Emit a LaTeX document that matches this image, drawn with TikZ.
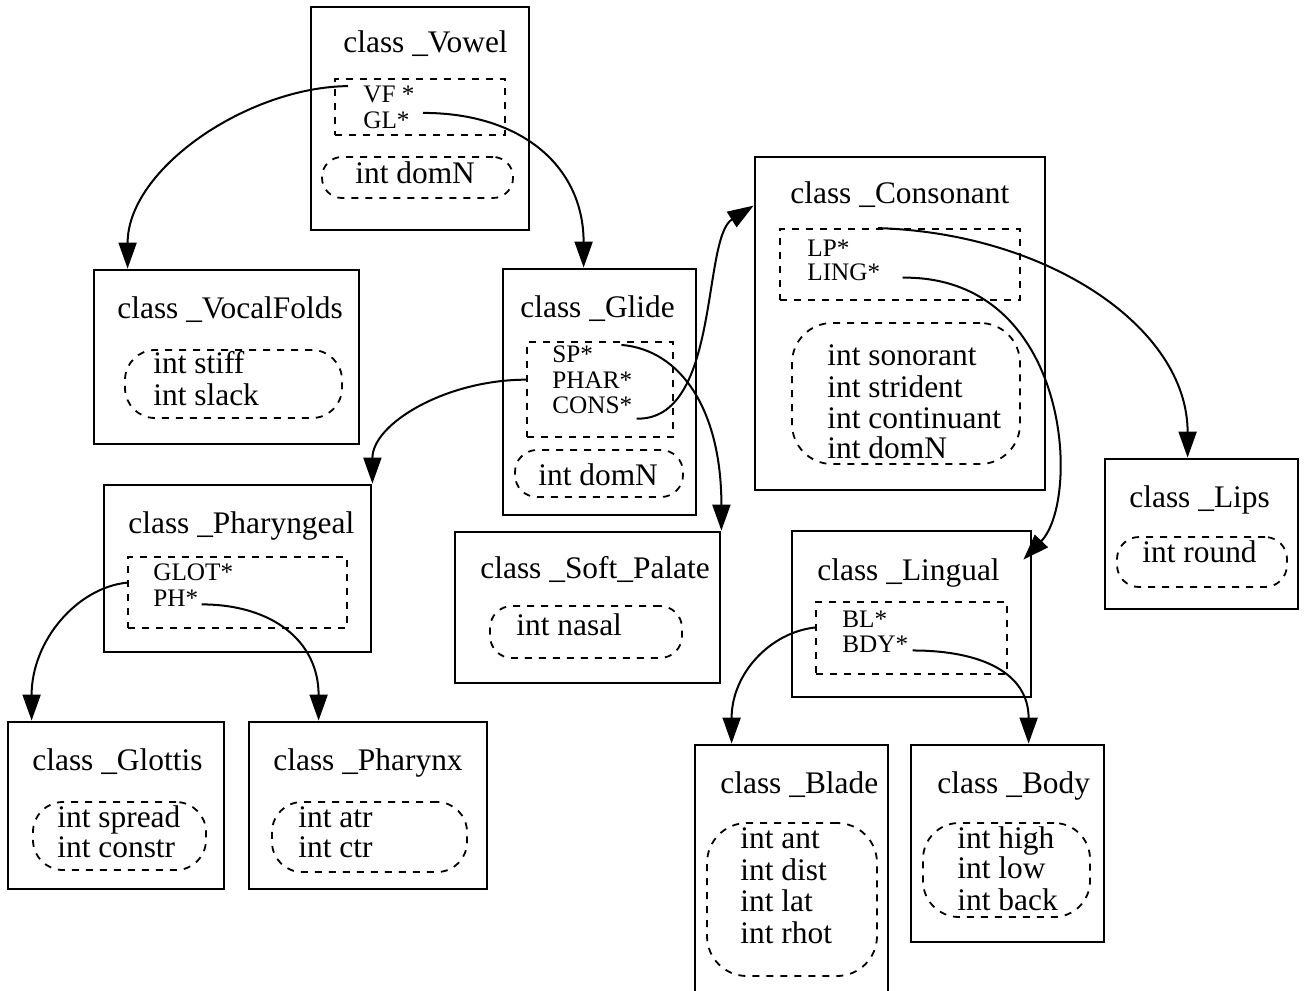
\documentclass[tikz,border=0pt]{standalone}
\usepackage{fontspec}
\setmainfont{Liberation Serif}
\usetikzlibrary{arrows.meta,calc,fit}
\newcommand\cfontL{\fontsize{15.7pt}{18pt}\selectfont}
\newcommand\cfontS{\fontsize{12.6pt}{15pt}\selectfont}

\begin{document}
\begin{tikzpicture}[x=0.5pt,y=-0.5pt,
  cls/.style={draw, line width=1.4pt, inner sep=0pt},
  fbox/.style={draw, line width=0.9pt, dash pattern=on 3.5pt off 3.5pt, inner sep=0pt},
  ibox/.style={draw, line width=0.9pt, dash pattern=on 3.5pt off 3.5pt, inner sep=0pt, rounded corners=#1},
  ttl/.style={anchor=base west, inner sep=0pt, font=\cfontL},
  fld/.style={anchor=base west, inner sep=0pt, font=\cfontS},
  mem/.style={anchor=base west, inner sep=0pt, font=\cfontL},
  arr/.style={-{Triangle[length=13pt,width=9pt]}, line width=1pt},
]
\useasboundingbox (0,0) rectangle (1304,990);

% class _Vowel
\node[cls, fit={(311,7)(529,230)}] (vowel) {};
\node[ttl] (vowelT) at (343,53) {class \_Vowel};
\node[fbox, fit={(335,79)(505,135)}] (vowelF) {};
\node[fld] (vf) at (363,103) {VF *};
\node[fld] (gl) at (363,128) {GL*};
\node[ibox=10pt, fit={(322,157)(513,198)}] (vowelI) {};
\node[mem] (vowelD) at (355,183) {int domN};

% class _VocalFolds
\node[cls, fit={(94,270)(359,444)}] (vocalfolds) {};
\node[ttl] (vocalT) at (117,318) {class \_VocalFolds};
\node[ibox=15pt, fit={(125,350)(342,418)}] (vocalI) {};
\node[mem] (stiff) at (153,373) {int stiff};
\node[mem] (slack) at (153,405) {int slack};

% class _Glide
\node[cls, fit={(503,269)(696,515)}] (glide) {};
\node[ttl] (glideT) at (520,317) {class \_Glide};
\node[fbox, fit={(527,342)(673,437)}] (glideF) {};
\node[fld] (sp) at (552,362) {SP*};
\node[fld] (phar) at (552,388) {PHAR*};
\node[fld] (cons) at (552,413) {CONS*};
\node[ibox=11pt, fit={(515,450)(683,497)}] (glideI) {};
\node[mem] (glideD) at (538,485) {int domN};

% class _Consonant
\node[cls, fit={(755,157)(1045,490)}] (consonant) {};
\node[ttl] (consT) at (790,203) {class \_Consonant};
\node[fbox, fit={(780,229)(1020,300)}] (consF) {};
\node[fld] (lp) at (807,256) {LP*};
\node[fld] (ling) at (807,280) {LING*};
\node[ibox=20pt, fit={(792,323)(1020,464)}] (consI) {};
\node[mem] (sonorant) at (827,365) {int sonorant};
\node[mem] (strident) at (827,397) {int strident};
\node[mem] (continuant) at (827,428) {int continuant};
\node[mem] (consD) at (827,458) {int domN};

% class _Lips
\node[cls, fit={(1105,459)(1298,609)}] (lips) {};
\node[ttl] (lipsT) at (1129,507) {class \_Lips};
\node[ibox=11pt, fit={(1117,537)(1287,587)}] (lipsI) {};
\node[mem] (round) at (1142,562) {int round};

% class _Pharyngeal
\node[cls, fit={(104,485)(371,652)}] (pharyngeal) {};
\node[ttl] (pharT) at (128,533) {class \_Pharyngeal};
\node[fbox, fit={(128,557)(347,628)}] (pharF) {};
\node[fld] (glot) at (153,580) {GLOT*};
\node[fld] (ph) at (153,606) {PH*};

% class _Soft_Palate
\node[cls, fit={(455,532)(720,683)}] (softpalate) {};
\node[ttl] (softT) at (480,578) {class \_Soft\_Palate};
\node[ibox=11pt, fit={(490,606)(682,658)}] (softI) {};
\node[mem] (nasal) at (516,635) {int nasal};

% class _Lingual
\node[cls, fit={(792,531)(1031,697)}] (lingual) {};
\node[ttl] (lingT) at (817,580) {class \_Lingual};
\node[fbox, fit={(816,602)(1007,674)}] (lingF) {};
\node[fld] (bl) at (842,627) {BL*};
\node[fld] (bdy) at (842,652) {BDY*};

% class _Glottis
\node[cls, fit={(8,722)(224,889)}] (glottis) {};
\node[ttl] (glottisT) at (32,770) {class \_Glottis};
\node[ibox=15pt, fit={(33,802)(206,870)}] (glottisI) {};
\node[mem] (spread) at (57,827) {int spread};
\node[mem] (constr) at (57,857) {int constr};

% class _Pharynx
\node[cls, fit={(249,722)(487,889)}] (pharynx) {};
\node[ttl] (pharynxT) at (273,770) {class \_Pharynx};
\node[ibox=15pt, fit={(272,802)(467,872)}] (pharynxI) {};
\node[mem] (atr) at (298,827) {int atr};
\node[mem] (ctr) at (298,857) {int ctr};

% class _Blade
\node[cls, fit={(695,745)(888,1000)}] (blade) {};
\node[ttl] (bladeT) at (720,793) {class \_Blade};
\node[ibox=20pt, fit={(707,823)(877,976)}] (bladeI) {};
\node[mem] (ant) at (740,848) {int ant};
\node[mem] (dist) at (740,880) {int dist};
\node[mem] (lat) at (740,911) {int lat};
\node[mem] (rhot) at (740,943) {int rhot};

% class _Body
\node[cls, fit={(911,745)(1104,942)}] (body) {};
\node[ttl] (bodyT) at (937,793) {class \_Body};
\node[ibox=18pt, fit={(923,823)(1090,917)}] (bodyI) {};
\node[mem] (high) at (957,848) {int high};
\node[mem] (low) at (957,878) {int low};
\node[mem] (back) at (957,910) {int back};

% pointer fields to their classes
\draw[arr] ($(vf.north west)+(-15,0)$) .. controls +(-100,1) and +(0,-100) .. ($(vocalfolds.north west)+(35,0)$);
\draw[arr] ($(gl.north east)+(13,2)$) .. controls +(100,0) and +(0,-100) .. ($(glide.north west)+(82,0)$);
\draw[arr] (glideF.west |- phar.west) .. controls +(-80,0) and +(0,-60) .. (pharyngeal.north east);
\draw[arr] ($(cons.south east)+(4,5)$) .. controls +(84,2) and +(-52,33) .. ($(consonant.north west)+(0,50)$);
\draw[arr] ($(sp.north east)+(28,0)$) .. controls +(60,5) and +(0,-120) .. (softpalate.north east);
\draw[arr] ($(consF.north -| lp.east)+(28,0)$) .. controls +(170,5) and +(0,-130) .. ($(lips.north west)+(84,0)$);
\draw[arr] ($(ling.south east)+(22,-3)$) .. controls +(168,-2) and +(58,-60) .. ($(lingual.north east)+(-9,30)$);
\draw[arr] ($(pharF.west |- glot.south)+(0,2)$) .. controls +(-50,5) and +(0,-80) .. ($(glottis.north west)+(25,0)$);
\draw[arr] ($(ph.south east)+(3,-2)$) .. controls +(70,0) and +(0,-80) .. ($(pharynx.north west)+(71,0)$);
\draw[arr] (lingF.west |- bl.south) .. controls +(-45,5) and +(0,-70) .. ($(blade.north west)+(38,0)$);
\draw[arr] ($(bdy.south east)+(4,-2)$) .. controls +(70,0) and +(0,-70) .. ($(body.north west)+(119,0)$);
\end{tikzpicture}
\end{document}
